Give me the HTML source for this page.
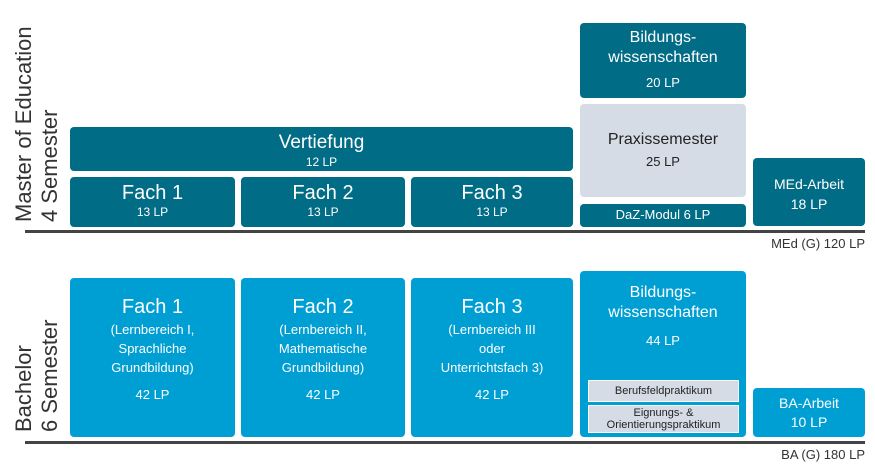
<!DOCTYPE html>
<html><head><meta charset="utf-8"><style>
body{margin:0;width:875px;height:474px;background:#fff;position:relative;overflow:hidden;font-family:"Liberation Sans",sans-serif;}
.b{position:absolute;border-radius:4px;color:#fff;text-align:center;box-sizing:border-box;}
.d{background:#006c86;}
.l{background:#009fd3;}
.g{background:#d6dce5;color:#222;}
.t{position:absolute;font-size:13px;color:#333;}
.line{position:absolute;height:3px;background:#444;}
.rot{position:absolute;transform:rotate(-90deg);transform-origin:left top;font-size:22px;color:#333;line-height:26px;white-space:nowrap;}
</style></head><body>
<div class="rot" style="left:11px;top:222px;">Master of Education<br>4 Semester</div>
<div class="rot" style="left:11px;top:432px;">Bachelor<br>6 Semester</div>

<div class="b d" style="left:70px;top:127px;width:503px;height:44px;padding-top:5px;"><div style="font-size:19px;">Vertiefung</div><div style="font-size:12px;margin-top:1px;">12 LP</div></div>
<div class="b d" style="left:70px;top:177px;width:165px;height:50px;padding-top:5px;"><div style="font-size:20px;">Fach 1</div><div style="font-size:12px;">13 LP</div></div>
<div class="b d" style="left:241px;top:177px;width:164px;height:50px;padding-top:5px;"><div style="font-size:20px;">Fach 2</div><div style="font-size:12px;">13 LP</div></div>
<div class="b d" style="left:411px;top:177px;width:162px;height:50px;padding-top:5px;"><div style="font-size:20px;">Fach 3</div><div style="font-size:12px;">13 LP</div></div>
<div class="b d" style="left:580px;top:23px;width:166px;height:75px;padding-top:5px;line-height:20px;"><div style="font-size:16px;">Bildungs-<br>wissenschaften</div><div style="font-size:13px;margin-top:5px;">20 LP</div></div>
<div class="b g" style="left:580px;top:104px;width:166px;height:93px;padding-top:27px;"><div style="font-size:16px;">Praxissemester</div><div style="font-size:13px;margin-top:5px;">25 LP</div></div>
<div class="b d" style="left:580px;top:204px;width:166px;height:23px;padding-top:3px;font-size:13px;">DaZ-Modul 6 LP</div>
<div class="b d" style="left:753px;top:158px;width:112px;height:68px;padding-top:16px;font-size:14px;line-height:20px;">MEd-Arbeit<br>18 LP</div>
<div class="line" style="left:25px;top:230px;width:840px;"></div>
<div class="t" style="right:10px;top:236px;">MEd (G) 120 LP</div>

<div class="b l" style="left:70px;top:278px;width:165px;height:159px;padding-top:16px;line-height:19px;"><div style="font-size:20px;line-height:26px;">Fach 1</div><div style="font-size:13px;">(Lernbereich I,<br>Sprachliche<br>Grundbildung)</div><div style="font-size:13px;margin-top:8px;">42 LP</div></div>
<div class="b l" style="left:241px;top:278px;width:164px;height:159px;padding-top:16px;line-height:19px;"><div style="font-size:20px;line-height:26px;">Fach 2</div><div style="font-size:13px;">(Lernbereich II,<br>Mathematische<br>Grundbildung)</div><div style="font-size:13px;margin-top:8px;">42 LP</div></div>
<div class="b l" style="left:411px;top:278px;width:162px;height:159px;padding-top:16px;line-height:19px;"><div style="font-size:20px;line-height:26px;">Fach 3</div><div style="font-size:13px;">(Lernbereich III<br>oder<br>Unterrichtsfach 3)</div><div style="font-size:13px;margin-top:8px;">42 LP</div></div>
<div class="b l" style="left:580px;top:271px;width:166px;height:166px;padding-top:12px;line-height:20px;"><div style="font-size:16px;">Bildungs-<br>wissenschaften</div><div style="font-size:13px;margin-top:8px;">44 LP</div></div>
<div class="b g" style="left:588px;top:380px;width:151px;height:22px;border-radius:0;font-size:11px;line-height:20px;border:1px solid #fff;">Berufsfeldpraktikum</div>
<div class="b g" style="left:588px;top:405px;width:151px;height:28px;border-radius:0;font-size:11px;line-height:12px;padding-top:1px;border:1px solid #fff;">Eignungs- &amp;<br>Orientierungspraktikum</div>
<div class="b l" style="left:753px;top:388px;width:112px;height:49px;padding-top:6px;font-size:14px;line-height:19px;">BA-Arbeit<br>10 LP</div>
<div class="line" style="left:25px;top:441px;width:840px;"></div>
<div class="t" style="right:10px;top:447px;">BA (G) 180 LP</div>
</body></html>
